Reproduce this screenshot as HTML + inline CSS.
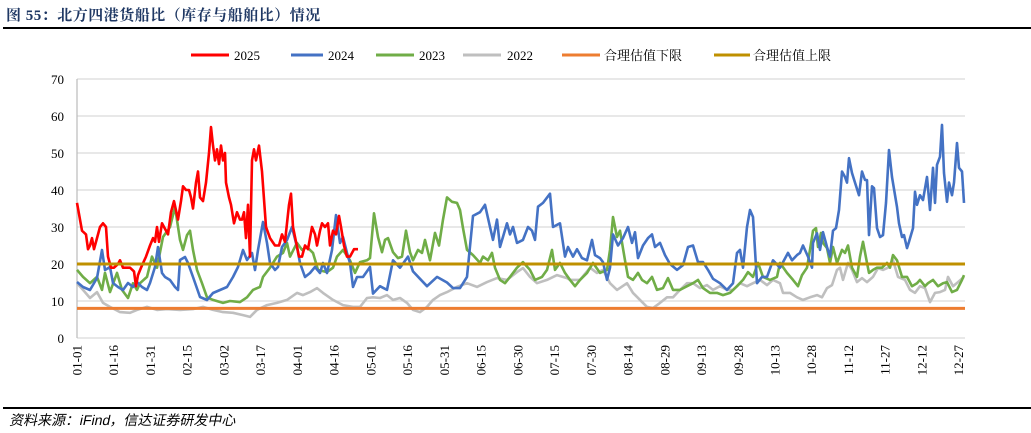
<!DOCTYPE html>
<html><head><meta charset="utf-8"><style>
html,body{margin:0;padding:0;background:#fff;}
body{width:1031px;height:433px;overflow:hidden;position:relative;font-family:"Liberation Serif","Noto Serif CJK SC",serif;}
.title{position:absolute;left:6px;top:4px;font-size:15px;font-weight:bold;color:#1f3864;font-family:"Liberation Serif","Noto Serif CJK SC",serif;letter-spacing:0.5px;}
.src{position:absolute;left:8px;top:410px;font-size:14px;color:#000;font-family:"Liberation Sans","Noto Sans CJK SC",sans-serif;transform:skewX(-12deg);transform-origin:0 100%;}
</style></head><body>
<div class="title">图 55：北方四港货船比（库存与船舶比）情况</div>
<svg width="1031" height="433" style="position:absolute;left:0;top:0" id="s">
<line x1="3" y1="28" x2="1031" y2="28" stroke="#000" stroke-width="2"/>
<line x1="3" y1="408" x2="1031" y2="408" stroke="#000" stroke-width="2"/>
<g id="grid"></g>
<g id="series" fill="none" stroke-width="2.6" stroke-linejoin="round"></g>
<g font-size="13" font-family="Liberation Serif, Noto Serif CJK SC, serif">
<line x1="191" y1="55" x2="229" y2="55" stroke="#FF0000" stroke-width="3"/><text x="234" y="60">2025</text>
<line x1="291" y1="55" x2="323" y2="55" stroke="#4472C4" stroke-width="3"/><text x="328" y="60">2024</text>
<line x1="376" y1="55" x2="414" y2="55" stroke="#70AD47" stroke-width="3"/><text x="419" y="60">2023</text>
<line x1="463" y1="55" x2="501" y2="55" stroke="#BFBFBF" stroke-width="3"/><text x="507" y="60">2022</text>
<line x1="562" y1="55" x2="600" y2="55" stroke="#ED7D31" stroke-width="3"/><text x="604" y="60">合理估值下限</text>
<line x1="714" y1="55" x2="750" y2="55" stroke="#BF9000" stroke-width="3"/><text x="753" y="60">合理估值上限</text>
</g>
</svg>
<div class="src">资料来源：iFind，信达证券研发中心</div>
<script>
var NS="http://www.w3.org/2000/svg";
function el(t,a,p){var e=document.createElementNS(NS,t);for(var k in a)e.setAttribute(k,a[k]);p.appendChild(e);return e;}
var g=document.getElementById('grid');
function Y(v){return 338-3.7*v;}
for(var v=0;v<=70;v+=10){
 if(v>0)el('line',{x1:77,x2:965,y1:Y(v),y2:Y(v),stroke:'#D9D9D9','stroke-width':1.3},g);
 var t=el('text',{x:64,y:Y(v)+5,'text-anchor':'end','font-size':13,'font-family':'Liberation Serif, serif'},g);t.textContent=v;
}
el('line',{x1:77,x2:965,y1:338,y2:338,stroke:'#D9D9D9','stroke-width':1.3},g);
el('line',{x1:77,x2:77,y1:79,y2:338,stroke:'#BFBFBF','stroke-width':1.3},g);
var L=["01-01","01-16","01-31","02-15","03-02","03-17","04-01","04-16","05-01","05-16","05-31","06-15","06-30","07-15","07-30","08-14","08-29","09-13","09-28","10-13","10-28","11-12","11-27","12-12","12-27"];
for(var i=0;i<L.length;i++){
 var x=77+i*(878/23.9);
 var t=el('text',{transform:'translate('+(x+4.5)+',345) rotate(-90)','text-anchor':'end','font-size':13,'font-family':'Liberation Serif, serif'},g);t.textContent=L[i];
}
function P(a){var s=[];for(var i=0;i<a.length;i+=2)s.push(a[i]+','+Y(a[i+1]).toFixed(1));return s.join(' ');}
function PP(a){var s=[];for(var i=0;i<a.length;i+=2)s.push(a[i]+','+a[i+1]);return s.join(' ');}
var sg=document.getElementById('series');
var gray=[77,14.8,83,13,90,10.8,97,12.4,103,9.5,110,8.4,120,7,130,6.8,137,7.6,147,8.4,157,7.6,167,7.8,180,7.6,193,7.8,203,8.4,213,7.6,223,7,233,6.8,243,6.2,250,5.7,257,7.6,267,8.9,277,9.5,287,10.3,297,12.2,303,11.6,310,12.4,317,13.5,323,12.2,333,10.3,343,8.9,353,8.4,360,8.4,367,10.8,373,11,380,10.8,387,11.6,393,10.3,400,10.8,407,9.5,413,7.6,420,7,427,8.4,433,10.3,440,11.6,447,12.4,457,13.8,467,14.8,477,13.8,487,15.1,497,16.2,507,15.7,517,17.8,523,18.9,530,16.5,537,14.8,547,15.7,557,17,567,16.2,570,15.7,580,15.7,590,19,597,17.6,603,18.4,610,14.8,617,13,627,14.8,633,12.2,640,10.3,647,8.4,653,8.1,660,9.5,667,11,673,11,680,13,687,14.8,693,14.8,700,13.5,707,14.3,713,13,720,14,727,13,733,13,740,14.8,747,14,753,14.8,760,15.7,767,14.3,773,15.7,780,14.8,783,12.2,790,12.2,797,11,803,10.3,810,11,817,11.6,822,11,827,13.5,832,14.3,837,18.4,840,19,843,15.7,848,20.3,852,18.4,857,15.1,862,16.2,867,15.1,873,16.5,878,18.9,883,18.4,888,19,893,21,898,16.5,905,15.7,910,13,915,12.2,920,14,925,13.5,930,9.7,935,12.2,940,12.4,945,13,948,16.5,953,14,958,15.1,964,16.5];
var green=[77,18.4,83,16.5,90,14.8,97,16.5,102,13,105,17.6,110,12.4,117,17.6,122,13,128,10.8,133,14.8,137,13,140,14.8,147,16.5,152,22,157,19,163,27.3,170,30,175,35.4,180,26.5,183,23.8,187,27.8,190,29,193,23.8,197,18.4,202,14.8,207,11,213,10.3,223,9.5,230,10,240,9.7,247,11,253,13,260,13.8,263,16.5,270,19,277,22,283,23,287,25.7,290,22,297,25.7,302,23.8,307,24.6,313,23,318,18.4,327,17.8,333,19,337,22,343,23.8,350,21,355,17.6,360,20.5,367,21,370,21.6,374,33.7,378,27.3,382,23.2,385,26.5,388,27,393,23.2,398,21.6,402,22,406,29,410,23.2,413,21,418,23.8,422,23,425,26.5,430,21,435,28.4,439,25,443,32,447,38,452,36.8,457,36.5,460,34.6,463,29.7,467,23.8,473,22.4,480,20.3,483,22,488,21,492,23,495,19,500,15.7,505,14.8,510,16.5,517,19,523,20.5,530,18.4,535,15.7,542,16.5,547,18.4,552,23.8,555,18.4,560,20.3,565,17.6,570,15.7,575,14,580,15.7,587,17.6,593,20.3,600,17.6,607,18.4,610,23.8,613,32.7,617,27.3,620,29,625,21,628,16.5,633,15.7,638,17.6,642,15.7,647,14.8,652,16.5,657,13,663,13.5,668,16.2,673,13,680,13,687,14,693,14.8,698,15.7,703,13.5,710,12.2,717,12.2,723,11.6,730,12.2,737,14,743,15.7,748,17.8,753,16.5,758,20.3,763,16.5,770,15.7,777,16.5,780,20.3,787,17.6,793,15.7,798,14,802,17,807,19,810,23.8,813,29,816,29.7,818,24.6,821,28.4,823,25.7,827,24.3,830,20.3,833,24.6,837,20.3,842,23.8,845,23,848,25,852,19,857,16.5,860,22,863,26,867,20.3,869,17.6,873,18.4,877,19,882,19,887,20.3,890,19,893,22.4,897,21,902,16.5,907,16.5,912,14,917,14.8,920,15.7,925,14,928,14.8,933,15.7,938,14,943,14.8,947,15.1,952,12.4,957,13,962,15.7,964,17];
var blue1=[77,282,83,287,90,290,97,278,102,250,105,270,110,267,113,283,118,287,123,290,128,283,133,287,137,282,142,287,147,290,150,283,155,267,158,247,162,273,165,277,170,280,175,287,178,290,180,260,185,257,188,263,193,277,200,297,207,300,213,293,220,290,227,287,233,277,238,267,243,250,247,260,252,253,255,270,258,250,263,222,267,243,270,263,275,270,278,267,282,247,287,240,292,227,297,247,300,263,305,277,310,273,315,267,320,273,323,263,327,273,332,250,336,215,340,243,343,237,347,253,350,263,353,287,357,277,363,277,370,267];
var blue2=[373,12,380,14,387,13,393,21,400,19,408,22,413,18,420,16,427,14,437,16.5,447,15,453,13.5,460,13.5,467,16.5,473,33,480,34,485,36,490,30,493,26.5,497,32,500,24.6,507,31,510,28,513,30,517,25.7,523,26.5,528,30,532,29,535,26.5,538,35.5,543,36.5,550,39,553,30,560,31,565,22,568,24.6,573,22,577,24,582,21.6,587,21,592,26.5,595,22.4,600,21.6,603,20.5,607,15.7,610,19,613,28,618,25,623,27,628,30,632,25.7,635,28.6,638,21.6,643,25,648,27,652,28,655,24.6,660,25.7,665,22.4,670,20,677,18.4,683,19.7,688,24.6,693,25,698,20.5,703,20.5,708,18.4,713,16,720,14.8,727,13,733,14.8,737,23,740,23.8,743,19,747,30,750,34.6,753,32.7,757,14.8,762,16.5,767,16.5,773,21,780,19,788,23,792,21,797,22.4,800,23,803,25,808,22,812,19,813,25.7,817,28.3,820,23.8,823,28.6,827,24.6,830,22,833,29,836,29.7,839,34.6,842,45,845,43.5,847,42,849,48.6,852,44.6,855,42,859,38.6,862,45,865,42.7,867,42.7,869,27.8,872,41,874,40.5,877,29.7,880,27.3,883,27.8,886,36.5,889,50.8,892,43.5,897,35.4,899,31,902,27.3,904,27.8,907,24.3,909,26,913,29.7,915,39.5,917,36,920,38.6,923,37.3,927,43.5,930,34.6,933,46,935,36.5,937,46.8,940,49,942,57.6,944,44.6,947,36.8,949,42,952,38.6,954,42,957,52.7,959,46,962,45,964,36.5];
var red=[77,36.5,82,29,86,28,88,24,90,25,92,27,94,24,97,27,100,30,103,31,106,30,108,22,111,19,114,19,118,20,120,21,123,19,126,19,130,19,134,18,136,14,138,17,141,19,146,22,150,25,153,27,155,26,157,30,159,26,162,31,164,30,168,28,171,34,174,37,178,32,181,37,183,41,186,40,189,40,191,38,193,35,196,42,198,45,200,38,203,37,206,42,209,50,211,57,213,52,215,48,217,51,219,47,221,52,223,48,225,50,226,42,229,38,231,36,234,31,237,34,240,32,242,32,244,34,246,27,248,36,250,22,252,48,254,51,256,48,259,52,262,45,266,30,270,27,275,25,279,25,282,28,285,26,289,36,291,39,293,30,296,26,299,22,302,22,305,25,308,24,312,30,315,28,317,25,320,29,322,31,325,30,328,31,330,25,333,29,336,28,339,33,341,30,344,25,347,22,350,22,354,24,358,24];
el('polyline',{points:P(gray),stroke:'#BFBFBF'},sg);
el('polyline',{points:P(green),stroke:'#70AD47'},sg);
el('polyline',{points:PP(blue1)+' '+P(blue2),stroke:'#4472C4'},sg);
el('polyline',{points:P(red),stroke:'#FF0000'},sg);
el('line',{x1:77,x2:965,y1:Y(8),y2:Y(8),stroke:'#ED7D31','stroke-width':3},sg);
el('line',{x1:77,x2:965,y1:Y(20),y2:Y(20),stroke:'#BF9000','stroke-width':3},sg);
</script>
</body></html>
